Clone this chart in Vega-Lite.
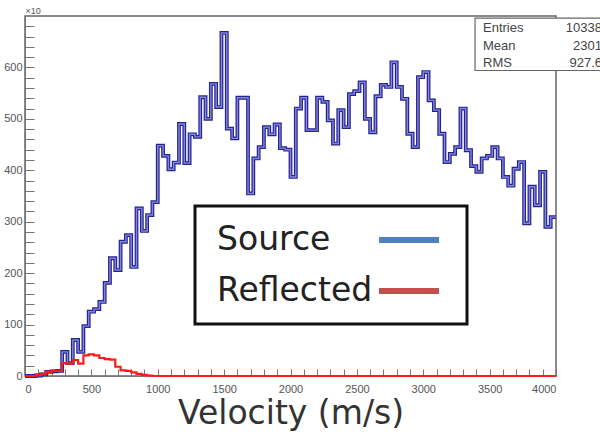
{
  "$schema": "https://vega.github.io/schema/vega-lite/v6.json",
  "width": 531,
  "height": 360,
  "autosize": {"type": "none"},
  "padding": {"left": 25, "top": 16, "right": 44, "bottom": 67},
  "background": "white",
  "config": {"view": {"stroke": "#666", "strokeWidth": 1.5}, "font": "Liberation Sans", "legend": {"strokeWidth": 3}},
  "datasets": {
    "hist": [
      {"x0":0,"x1":40,"Source":0,"Reflected":0},{"x0":40,"x1":80,"Source":0,"Reflected":0},{"x0":80,"x1":120,"Source":1,"Reflected":2},{"x0":120,"x1":160,"Source":3,"Reflected":4},{"x0":160,"x1":200,"Source":8,"Reflected":8},
      {"x0":200,"x1":240,"Source":9,"Reflected":10},{"x0":240,"x1":280,"Source":10,"Reflected":10},{"x0":280,"x1":320,"Source":47,"Reflected":25},{"x0":320,"x1":360,"Source":25,"Reflected":24},{"x0":360,"x1":400,"Source":70,"Reflected":31},
      {"x0":400,"x1":440,"Source":47,"Reflected":24},{"x0":440,"x1":480,"Source":97,"Reflected":40},{"x0":480,"x1":520,"Source":125,"Reflected":42},{"x0":520,"x1":560,"Source":130,"Reflected":40},{"x0":560,"x1":600,"Source":144,"Reflected":35},
      {"x0":600,"x1":640,"Source":181,"Reflected":33},{"x0":640,"x1":680,"Source":229,"Reflected":32},{"x0":680,"x1":720,"Source":206,"Reflected":18},{"x0":720,"x1":760,"Source":261,"Reflected":11},{"x0":760,"x1":800,"Source":274,"Reflected":10},
      {"x0":800,"x1":840,"Source":212,"Reflected":7},{"x0":840,"x1":880,"Source":326,"Reflected":4},{"x0":880,"x1":920,"Source":282,"Reflected":2},{"x0":920,"x1":960,"Source":313,"Reflected":1},{"x0":960,"x1":1000,"Source":338,"Reflected":0},
      {"x0":1000,"x1":1040,"Source":448,"Reflected":0},{"x0":1040,"x1":1080,"Source":428,"Reflected":0},{"x0":1080,"x1":1120,"Source":402,"Reflected":0},{"x0":1120,"x1":1160,"Source":415,"Reflected":0},{"x0":1160,"x1":1200,"Source":490,"Reflected":0},
      {"x0":1200,"x1":1240,"Source":414,"Reflected":0},{"x0":1240,"x1":1280,"Source":470,"Reflected":0},{"x0":1280,"x1":1320,"Source":465,"Reflected":0},{"x0":1320,"x1":1360,"Source":542,"Reflected":0},{"x0":1360,"x1":1400,"Source":500,"Reflected":0},
      {"x0":1400,"x1":1440,"Source":568,"Reflected":0},{"x0":1440,"x1":1480,"Source":523,"Reflected":0},{"x0":1480,"x1":1520,"Source":667,"Reflected":0},{"x0":1520,"x1":1560,"Source":481,"Reflected":0},{"x0":1560,"x1":1600,"Source":462,"Reflected":0},
      {"x0":1600,"x1":1640,"Source":541,"Reflected":0},{"x0":1640,"x1":1680,"Source":541,"Reflected":0},{"x0":1680,"x1":1720,"Source":355,"Reflected":0},{"x0":1720,"x1":1760,"Source":423,"Reflected":0},{"x0":1760,"x1":1800,"Source":445,"Reflected":0},
      {"x0":1800,"x1":1840,"Source":484,"Reflected":0},{"x0":1840,"x1":1880,"Source":470,"Reflected":0},{"x0":1880,"x1":1920,"Source":489,"Reflected":0},{"x0":1920,"x1":1960,"Source":443,"Reflected":0},{"x0":1960,"x1":2000,"Source":440,"Reflected":0},
      {"x0":2000,"x1":2040,"Source":387,"Reflected":0},{"x0":2040,"x1":2080,"Source":520,"Reflected":0},{"x0":2080,"x1":2120,"Source":541,"Reflected":0},{"x0":2120,"x1":2160,"Source":478,"Reflected":0},{"x0":2160,"x1":2200,"Source":478,"Reflected":0},
      {"x0":2200,"x1":2240,"Source":541,"Reflected":0},{"x0":2240,"x1":2280,"Source":533,"Reflected":0},{"x0":2280,"x1":2320,"Source":497,"Reflected":0},{"x0":2320,"x1":2360,"Source":452,"Reflected":0},{"x0":2360,"x1":2400,"Source":517,"Reflected":0},
      {"x0":2400,"x1":2440,"Source":484,"Reflected":0},{"x0":2440,"x1":2480,"Source":548,"Reflected":0},{"x0":2480,"x1":2520,"Source":554,"Reflected":0},{"x0":2520,"x1":2560,"Source":571,"Reflected":0},{"x0":2560,"x1":2600,"Source":500,"Reflected":0},
      {"x0":2600,"x1":2640,"Source":474,"Reflected":0},{"x0":2640,"x1":2680,"Source":544,"Reflected":0},{"x0":2680,"x1":2720,"Source":566,"Reflected":0},{"x0":2720,"x1":2760,"Source":562,"Reflected":0},{"x0":2760,"x1":2800,"Source":610,"Reflected":0},
      {"x0":2800,"x1":2840,"Source":562,"Reflected":0},{"x0":2840,"x1":2880,"Source":539,"Reflected":0},{"x0":2880,"x1":2920,"Source":471,"Reflected":0},{"x0":2920,"x1":2960,"Source":445,"Reflected":0},{"x0":2960,"x1":3000,"Source":581,"Reflected":0},
      {"x0":3000,"x1":3040,"Source":591,"Reflected":0},{"x0":3040,"x1":3080,"Source":536,"Reflected":0},{"x0":3080,"x1":3120,"Source":517,"Reflected":0},{"x0":3120,"x1":3160,"Source":471,"Reflected":0},{"x0":3160,"x1":3200,"Source":416,"Reflected":0},
      {"x0":3200,"x1":3240,"Source":432,"Reflected":0},{"x0":3240,"x1":3280,"Source":445,"Reflected":0},{"x0":3280,"x1":3320,"Source":520,"Reflected":0},{"x0":3320,"x1":3360,"Source":439,"Reflected":0},{"x0":3360,"x1":3400,"Source":408,"Reflected":0},
      {"x0":3400,"x1":3440,"Source":397,"Reflected":0},{"x0":3440,"x1":3480,"Source":423,"Reflected":0},{"x0":3480,"x1":3520,"Source":428,"Reflected":0},{"x0":3520,"x1":3560,"Source":445,"Reflected":0},{"x0":3560,"x1":3600,"Source":423,"Reflected":0},
      {"x0":3600,"x1":3640,"Source":387,"Reflected":0},{"x0":3640,"x1":3680,"Source":370,"Reflected":0},{"x0":3680,"x1":3720,"Source":403,"Reflected":0},{"x0":3720,"x1":3760,"Source":416,"Reflected":0},{"x0":3760,"x1":3800,"Source":297,"Reflected":0},
      {"x0":3800,"x1":3840,"Source":368,"Reflected":0},{"x0":3840,"x1":3880,"Source":332,"Reflected":0},{"x0":3880,"x1":3920,"Source":397,"Reflected":0},{"x0":3920,"x1":3960,"Source":290,"Reflected":0},{"x0":3960,"x1":4000,"Source":309,"Reflected":0}
    ],
    "stats": [
      {"stat": "Entries", "val": "10338"},
      {"stat": "Mean", "val": "2301"},
      {"stat": "RMS", "val": "927.6"}
    ]
  },
  "layer": [
    {
      "data": {"name": "hist"},
      "transform": [
        {"fold": ["Source", "Reflected"], "as": ["series", "count"]},
        {"fold": ["x0", "x1"], "as": ["edge", "v"]}
      ],
      "encoding": {
        "x": {
          "field": "v", "type": "quantitative",
          "scale": {"domain": [0, 4000], "nice": false, "zero": false},
          "axis": {
            "values": [0,100,200,300,400,500,600,700,800,900,1000,1100,1200,1300,1400,1500,1600,1700,1800,1900,2000,2100,2200,2300,2400,2500,2600,2700,2800,2900,3000,3100,3200,3300,3400,3500,3600,3700,3800,3900,4000],
            "format": "d",
            "labelExpr": "datum.value % 500 === 0 ? datum.label : ''",
            "labelFontSize": 11, "labelColor": "#555", "labelPadding": 14, "labelFont": "Liberation Sans",
            "tickSize": -7, "tickColor": "#777", "tickWidth": 1,
            "domainColor": "#777", "grid": false,
            "title": "Velocity (m/s)", "titleFont": "DejaVu Sans", "titleFontSize": 33, "titleFontWeight": "normal", "titleColor": "#333", "titlePadding": 3
          }
        },
        "y": {
          "field": "count", "type": "quantitative",
          "scale": {"domain": [0, 700], "nice": false},
          "axis": {
            "values": [0,20,40,60,80,100,120,140,160,180,200,220,240,260,280,300,320,340,360,380,400,420,440,460,480,500,520,540,560,580,600,620,640,660,680],
            "labelExpr": "datum.value % 100 === 0 && datum.value <= 600 ? datum.label : ''",
            "labelFontSize": 11, "labelColor": "#555", "labelPadding": 12, "labelFont": "Liberation Sans",
            "tickSize": -9, "tickColor": "#777", "domainColor": "#777", "grid": false,
            "title": "×10", "titleAngle": 0, "titleAlign": "left", "titleBaseline": "alphabetic", "titleX": 0, "titleY": -3,
            "titleFontSize": 9, "titleColor": "#555", "titleFontWeight": "normal"
          }
        }
      },
      "layer": [
        {"transform": [{"filter": "datum.series === 'Source'"}], "mark": {"type": "line", "color": "#25258f", "strokeWidth": 3.8}},
        {"transform": [{"filter": "datum.series === 'Source'"}], "mark": {"type": "line", "color": "#8585e0", "strokeWidth": 1.4}},
        {"transform": [{"filter": "datum.series === 'Reflected'"}], "mark": {"type": "line", "color": "#ff1a1a", "strokeWidth": 2.2}},
        {
          "mark": {"type": "line", "opacity": 0},
          "encoding": {
            "color": {
              "field": "series", "type": "nominal",
              "scale": {"domain": ["Source", "Reflected"], "range": ["#4f81bd", "#c0504d"]},
              "legend": {
                "title": null, "orient": "none", "legendX": 170, "legendY": 190,
                "strokeColor": "#111", "fillColor": "white", "padding": 16,
                "symbolType": "M10,0H14", "symbolSize": 900, "symbolStrokeWidth": 6, "symbolOpacity": 1,
                "symbolOffset": 0, "labelOffset": -30, "labelFontSize": 33, "labelFont": "DejaVu Sans", "labelColor": "#222",
                "rowPadding": 16, "labelLimit": 300
              }
            }
          }
        }
      ]
    },
    {
      "data": {"values": [{}]},
      "mark": {"type": "rect", "fill": "white", "stroke": "#666", "strokeWidth": 1.2},
      "encoding": {
        "x": {"datum": 3390, "type": "quantitative",
          "axis": {
            "values": [0,100,200,300,400,500,600,700,800,900,1000,1100,1200,1300,1400,1500,1600,1700,1800,1900,2000,2100,2200,2300,2400,2500,2600,2700,2800,2900,3000,3100,3200,3300,3400,3500,3600,3700,3800,3900,4000],
            "format": "d",
            "labelExpr": "datum.value % 500 === 0 ? datum.label : ''",
            "labelFontSize": 11, "labelColor": "#555", "labelPadding": 14, "labelFont": "Liberation Sans",
            "tickSize": -7, "tickColor": "#777", "tickWidth": 1,
            "domainColor": "#777", "grid": false,
            "title": "Velocity (m/s)", "titleFont": "DejaVu Sans", "titleFontSize": 33, "titleFontWeight": "normal", "titleColor": "#333", "titlePadding": 3
          }},
        "x2": {"datum": 4600},
        "y": {"datum": 696, "type": "quantitative",
          "axis": {
            "values": [0,20,40,60,80,100,120,140,160,180,200,220,240,260,280,300,320,340,360,380,400,420,440,460,480,500,520,540,560,580,600,620,640,660,680],
            "labelExpr": "datum.value % 100 === 0 && datum.value <= 600 ? datum.label : ''",
            "labelFontSize": 11, "labelColor": "#555", "labelPadding": 12, "labelFont": "Liberation Sans",
            "tickSize": -9, "tickColor": "#777", "domainColor": "#777", "grid": false,
            "title": "×10", "titleAngle": 0, "titleAlign": "left", "titleBaseline": "alphabetic", "titleX": 0, "titleY": -3,
            "titleFontSize": 9, "titleColor": "#555", "titleFontWeight": "normal"
          }},
        "y2": {"datum": 594}
      }
    },
    {
      "data": {"name": "stats"},
      "encoding": {
        "x": {"datum": 3450, "type": "quantitative",
          "axis": {
            "values": [0,100,200,300,400,500,600,700,800,900,1000,1100,1200,1300,1400,1500,1600,1700,1800,1900,2000,2100,2200,2300,2400,2500,2600,2700,2800,2900,3000,3100,3200,3300,3400,3500,3600,3700,3800,3900,4000],
            "format": "d",
            "labelExpr": "datum.value % 500 === 0 ? datum.label : ''",
            "labelFontSize": 11, "labelColor": "#555", "labelPadding": 14, "labelFont": "Liberation Sans",
            "tickSize": -7, "tickColor": "#777", "tickWidth": 1,
            "domainColor": "#777", "grid": false,
            "title": "Velocity (m/s)", "titleFont": "DejaVu Sans", "titleFontSize": 33, "titleFontWeight": "normal", "titleColor": "#333", "titlePadding": 3
          }},
        "y": {"datum": 676, "type": "quantitative",
          "axis": {
            "values": [0,20,40,60,80,100,120,140,160,180,200,220,240,260,280,300,320,340,360,380,400,420,440,460,480,500,520,540,560,580,600,620,640,660,680],
            "labelExpr": "datum.value % 100 === 0 && datum.value <= 600 ? datum.label : ''",
            "labelFontSize": 11, "labelColor": "#555", "labelPadding": 12, "labelFont": "Liberation Sans",
            "tickSize": -9, "tickColor": "#777", "domainColor": "#777", "grid": false,
            "title": "×10", "titleAngle": 0, "titleAlign": "left", "titleBaseline": "alphabetic", "titleX": 0, "titleY": -3,
            "titleFontSize": 9, "titleColor": "#555", "titleFontWeight": "normal"
          }},
        "yOffset": {"field": "stat", "type": "nominal", "sort": null, "scale": {"type": "point", "domain": ["Entries", "Mean", "RMS"], "range": [0, 35], "padding": 0}}
      },
      "layer": [
        {"mark": {"type": "text", "align": "left", "baseline": "middle", "fontSize": 13, "color": "#444", "font": "Liberation Sans"},
         "encoding": {"text": {"field": "stat"}}},
        {"mark": {"type": "text", "align": "right", "baseline": "middle", "fontSize": 13, "color": "#444", "font": "Liberation Sans", "dx": 119},
         "encoding": {"text": {"field": "val"}}}
      ]
    }
  ]
}
